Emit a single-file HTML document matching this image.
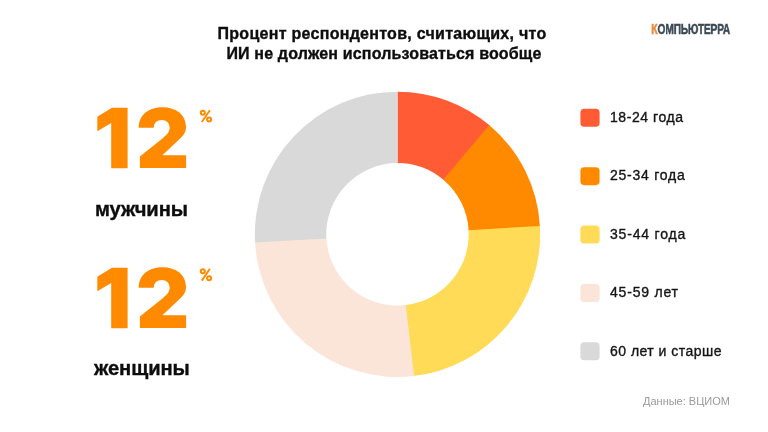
<!DOCTYPE html>
<html lang="ru">
<head>
<meta charset="utf-8">
<title>Процент респондентов</title>
<style>
html,body{margin:0;padding:0;background:#fff;}
body{width:768px;height:432px;position:relative;overflow:hidden;font-family:"Liberation Sans",sans-serif;color:#111;}
.abs{position:absolute;white-space:nowrap;will-change:transform;}
.title{left:0;width:768px;text-align:center;font-weight:bold;font-size:16px;line-height:20px;top:23.8px;color:#0d0d0d;-webkit-text-stroke:0.35px #0d0d0d;}
.title span{display:block;}
.lbl{font-weight:bold;font-size:20.2px;line-height:24px;color:#0d0d0d;letter-spacing:-0.08px;-webkit-text-stroke:0.35px #0d0d0d;}
.leg{font-size:14px;line-height:18px;color:#151515;left:610px;-webkit-text-stroke:0.35px #151515;}
.src{font-size:11px;line-height:14px;color:#9a9a9a;}
svg{position:absolute;left:0;top:0;}
</style>
</head>
<body>
<svg width="768" height="432" viewBox="0 0 768 432">
<g id="donut">
<path fill="#FF5B35" d="M397.50 91.65A142.65 142.65 0 0 1 490.14 125.83L443.77 180.12A71.25 71.25 0 0 0 397.50 163.05Z"/>
<path fill="#FF8A00" d="M489.19 125.02A142.65 142.65 0 0 1 539.98 227.25L468.66 230.78A71.25 71.25 0 0 0 443.30 179.72Z"/>
<path fill="#FFDB58" d="M539.91 226.01A142.65 142.65 0 0 1 412.82 376.12L405.15 305.14A71.25 71.25 0 0 0 468.63 230.16Z"/>
<path fill="#FBE5D9" d="M414.06 375.99A142.65 142.65 0 0 1 255.02 241.35L326.34 237.82A71.25 71.25 0 0 0 405.77 305.07Z"/>
<path fill="#D9D9D9" d="M255.09 242.59A142.65 142.65 0 0 1 397.50 91.65L397.50 163.05A71.25 71.25 0 0 0 326.37 238.44Z"/>
</g>
<g id="swatches">
<rect x="580.4" y="108.75" width="19.2" height="18" rx="3.8" fill="#FF5B35"/>
<rect x="580.4" y="167.15" width="19.2" height="18" rx="3.8" fill="#FF8A00"/>
<rect x="580.4" y="225.55" width="19.2" height="18" rx="3.8" fill="#FFDB58"/>
<rect x="580.4" y="283.95" width="19.2" height="18" rx="3.8" fill="#FBE5D9"/>
<rect x="580.4" y="342.35" width="19.2" height="18" rx="3.8" fill="#D9D9D9"/>
</g>
<g id="num1" fill="#FF8A00">
<path d="M112.0 107.8L127.6 107.8L127.6 168.2L111.2 168.2L111.2 123.1L97.3 131.2L97.3 116.8Z"/>
<path d="M138.7 127.8C138.7 116 147.5 107.3 162 107.3C176.5 107.3 186 115 186 127C186 132.5 183.2 136.2 176.2 142.2L162.4 155.2L186.1 155.2L186.1 168.1L139.9 168.1L139.9 156.5L163 138C167.5 134.3 169.6 131.8 169.6 127.8C169.6 123 166.5 120 161.8 120C157 120 153.8 123 153.8 127.8Z"/>
</g>
<g id="num2" fill="#FF8A00" transform="translate(0,160)">
<path d="M112.0 107.8L127.6 107.8L127.6 168.2L111.2 168.2L111.2 123.1L97.3 131.2L97.3 116.8Z"/>
<path d="M138.7 127.8C138.7 116 147.5 107.3 162 107.3C176.5 107.3 186 115 186 127C186 132.5 183.2 136.2 176.2 142.2L162.4 155.2L186.1 155.2L186.1 168.1L139.9 168.1L139.9 156.5L163 138C167.5 134.3 169.6 131.8 169.6 127.8C169.6 123 166.5 120 161.8 120C157 120 153.8 123 153.8 127.8Z"/>
</g>
<g id="pct1" fill="none" stroke="#FF8A00">
<circle cx="202.8" cy="112.7" r="2.0" stroke-width="2.0"/>
<circle cx="209.1" cy="119.6" r="2.0" stroke-width="2.0"/>
<path d="M209.9 110.2L201.8 122.0" stroke-width="1.9"/>
</g>
<g id="pct2" fill="none" stroke="#FF8A00" transform="translate(0,158.6)">
<circle cx="202.8" cy="112.7" r="2.0" stroke-width="2.0"/>
<circle cx="209.1" cy="119.6" r="2.0" stroke-width="2.0"/>
<path d="M209.9 110.2L201.8 122.0" stroke-width="1.9"/>
</g>
</svg>

<div class="abs title"><span id="t1" style="letter-spacing:0.28px;position:relative;left:-2px;">Процент респондентов, считающих, что</span><span id="t2" style="letter-spacing:0.16px;">ИИ не должен использоваться вообще</span></div>

<div class="abs" id="logo" style="left:650.6px;top:21.2px;font-weight:bold;font-size:14.3px;line-height:16px;color:#3a4854;transform-origin:0 0;transform:scaleX(0.708);letter-spacing:-0.2px;-webkit-text-stroke:0.45px #3a4854;"><span style="color:#E8893A;font-size:15.5px;-webkit-text-stroke:0.45px #E8893A;">К</span>ОМПЬЮТЕРРА</div>

<div class="abs lbl" id="men" style="left:94.6px;top:197.4px;">мужчины</div>
<div class="abs lbl" id="women" style="left:93.6px;top:355.7px;">женщины</div>

<div class="abs leg" id="l1" style="top:108px;letter-spacing:0.57px;">18-24 года</div>
<div class="abs leg" id="l2" style="top:166px;letter-spacing:0.75px;">25-34 года</div>
<div class="abs leg" id="l3" style="top:225px;letter-spacing:0.82px;">35-44 года</div>
<div class="abs leg" id="l4" style="top:283px;letter-spacing:0.8px;">45-59 лет</div>
<div class="abs leg" id="l5" style="top:342px;letter-spacing:0.48px;">60 лет и старше</div>

<div class="abs src" id="src" style="left:643.3px;top:394px;">Данные: ВЦИОМ</div>
</body>
</html>
